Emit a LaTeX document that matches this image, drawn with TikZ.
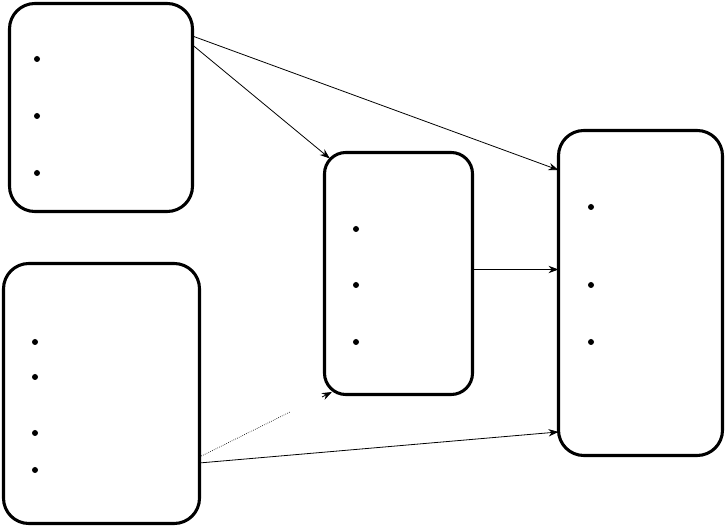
\documentclass[tikz,border=0pt]{standalone}
\usetikzlibrary{arrows.meta}
\begin{document}
\begin{tikzpicture}[>={Stealth[length=7.5pt,width=5.5pt]}, x=.75pt, y=-.75pt,
    card/.style={draw, line width=2.3pt, rounded corners=19pt, inner sep=0pt, outer sep=0pt},
    link/.style={->, line width=.6pt}]
    \useasboundingbox (0,0) rectangle (726,527);

    \node[card, minimum width=137.25pt, minimum height=156pt] (upper) at (101,107.5) {};
    \node[card, minimum width=147pt, minimum height=195pt] (lower) at (101.5,393.5) {};
    \node[card, rounded corners=16pt, minimum width=111pt, minimum height=181.5pt] (middle) at (398.5,273.5) {};
    \node[card, minimum width=123pt, minimum height=243.75pt] (target) at (640.5,293) {};

\foreach \y in {59,116,173}
{
    \fill (37,\y) circle (3);
}
\foreach \y in {342,377,433,470}
{
    \fill (35,\y) circle (3);
}
\foreach \y in {229,285,342}
{
    \fill (356,\y) circle (3);
}
\foreach \y in {207,285,342}
{
    \fill (591,\y) circle (3);
}

    \draw[link]([yshift=53.6pt]upper.east)--([yshift=92.2pt]target.west);
    \draw[link]([yshift=46.9pt]upper.east)--([shift={(4pt,-4.5pt)}]middle.north west);
    \draw[link]([yshift=3pt]middle.east)--([yshift=3pt]middle.east -| target.west);
    \draw[link]([yshift=-52.1pt]lower.east)--([yshift=-104.2pt]target.west);

    \coordinate (gap) at (290,412);
    \coordinate (gaptip) at (322,397);
    \draw[line width=.5pt, densely dotted]([yshift=-47.6pt]lower.east)--(gap);
    \draw[link](gaptip)--([shift={(5.6pt,1.9pt)}]middle.south west);

\end{tikzpicture}
\end{document}
